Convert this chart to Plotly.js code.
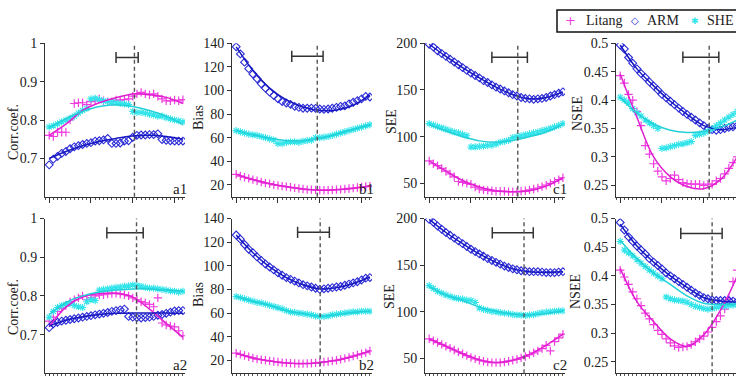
<!DOCTYPE html>
<html>
<head>
<meta charset="utf-8">
<script src="https://cdn.plot.ly/plotly-3.0.1.min.js"></script>
<style>
html,body{margin:0;padding:0;overflow:hidden;background:#fff;width:736px;height:376px;}
#wrap{width:736px;height:376px;overflow:hidden;position:relative;}
#chart{width:770px;height:376px;position:absolute;left:0;top:0;}
</style>
</head>
<body>
<div id="wrap"><div id="chart"></div></div>
<script>
// ---------- data ----------
const steps = [0,1,2,3,4,5,6,7,8,9,10,11,12,13,14,15,16,17,18,19,20,21,22,23,24,25,26,27,28,29,30,31,32];
const fitSteps = [0,4,8,12,16,20,24,28,32];
const seriesNames = ['Litang','ARM','SHE'];
const panelLabels = ['a1','b1','c1','d1','a2','b2','c2','d2'];
const yTitles = ['Corr.coef.','Bias','SEE','NSEE','Corr.coef.','Bias','SEE','NSEE'];
const tickA = [0.7,0.8,0.9,1];
const tickB = [20,40,60,80,100,120,140];
const tickC = [50,100,150,200];
const tickD = [0.25,0.3,0.35,0.4,0.45,0.5];

// a1
const a1_Litang = [0.76,0.757,0.768,0.768,0.768,0.80,0.843,0.845,0.845,0.84,0.848,0.85,0.855,0.85,0.848,0.848,0.852,0.852,0.853,0.855,0.862,0.868,0.872,0.868,0.866,0.868,0.862,0.855,0.85,0.85,0.852,0.85,0.853];
const a1_ARM = [0.683,0.698,0.705,0.713,0.718,0.725,0.730,0.733,0.736,0.739,0.741,0.745,0.746,0.748,0.752,0.739,0.739,0.740,0.745,0.746,0.755,0.760,0.761,0.761,0.762,0.762,0.764,0.749,0.747,0.746,0.745,0.745,0.745];
const a1_SHE = [0.782,0.785,0.79,0.795,0.80,0.805,0.81,0.818,0.825,0.83,0.855,0.857,0.853,0.85,0.848,0.847,0.845,0.843,0.842,0.84,0.822,0.82,0.82,0.818,0.815,0.813,0.81,0.81,0.806,0.803,0.80,0.798,0.795];
const a1_LitangFit = [0.76,0.789,0.825,0.845,0.858,0.868,0.866,0.859,0.843];
const a1_ARMFit = [0.70,0.718,0.733,0.744,0.752,0.758,0.76,0.757,0.75];
const a1_SHEFit = [0.78,0.803,0.822,0.835,0.84,0.835,0.825,0.81,0.788];
// b1
const b1_Litang = [29,27.5,26.5,25.5,24.5,23.5,22.5,21.5,21,20,19.5,19,18.5,18,17.5,17,16.5,16,16,15.8,15.5,15.5,15.6,15.8,16,16.2,16.5,17,17.3,17.8,18.2,18.6,19];
const b1_ARM = [137,131,124,118.5,114,110,105.7,102,98.6,95.7,93,90.6,89.4,88.3,86.6,85.7,85,85,85.1,84.9,84.3,84,84.3,85,85.7,86.6,87,88.6,90,91.4,92.9,95,94.5];
const b1_SHE = [66,65,64,63,62.5,62,61,60,59,58,55,55,56,56.5,56.5,56,57,57.5,58,60,60,60.5,61,62,63,64,65,66,67,68,69,70,71];
const b1_LitangFit = [29,24.5,21,18.5,16.5,15.5,15.8,17,19];
const b1_ARMFit = [137,117,102,92,86,83,83.5,87.5,96];
const b1_SHEFit = [66,62.5,59.5,57.5,57.5,59.5,63,67,71];
// c1
const c1_Litang = [74,71,69,66,63,60,57,52,51,50,49,46,44,43,42.5,42,41.5,41.5,41.5,41,41,41,41.5,42,43,44,45,46.5,48,50,52,54,56];
const c1_ARM = [199,196,192,189,186,183,180,177,174,171,168,165.5,163,160,158,155.5,153,151,149,147,145,143.5,142,141,140.5,140,140.5,141,142,143.5,145,146.5,148];
const c1_SHE = [114,112.5,111,109.5,108,106.5,105,104,102.5,101,89,89,89.5,90,90.5,91,92,94,95,96,99,100,101,102,103,104,105,106.5,107.5,109,110.5,112,114];
const c1_LitangFit = [74,63,53,46,42,41,42,47,56];
const c1_ARMFit = [199,186,174,163,153,145,140.5,142,148];
const c1_SHEFit = [113,106,100,95.5,94,96,100,105,113];
// d1
const d1_Litang = [0.443,0.43,0.41,0.40,0.38,0.355,0.32,0.305,0.288,0.275,0.265,0.258,0.262,0.268,0.26,0.255,0.253,0.252,0.252,0.252,0.25,0.252,0.252,0.258,0.262,0.27,0.28,0.29,0.30,0.315,0.33,0.345,0.36];
const d1_ARM = [0.497,0.49,0.475,0.465,0.455,0.447,0.44,0.432,0.425,0.418,0.41,0.404,0.398,0.392,0.386,0.38,0.375,0.37,0.365,0.36,0.355,0.35,0.348,0.347,0.348,0.35,0.352,0.353,0.355,0.356,0.357,0.358,0.36];
const d1_SHE = [0.405,0.40,0.395,0.385,0.378,0.372,0.365,0.36,0.355,0.35,0.315,0.316,0.318,0.32,0.322,0.323,0.325,0.327,0.338,0.34,0.342,0.345,0.35,0.355,0.36,0.365,0.37,0.375,0.38,0.385,0.39,0.395,0.40];
const d1_LitangFit = [0.446,0.37,0.30,0.265,0.248,0.244,0.26,0.30,0.36];
const d1_ARMFit = [0.497,0.455,0.425,0.398,0.375,0.355,0.348,0.352,0.36];
const d1_SHEFit = [0.405,0.377,0.358,0.347,0.343,0.345,0.352,0.365,0.385];
// a2
const a2_Litang = [0.735,0.745,0.76,0.768,0.775,0.785,0.79,0.795,0.80,0.79,0.795,0.80,0.802,0.803,0.805,0.806,0.807,0.805,0.803,0.80,0.795,0.79,0.785,0.782,0.778,0.772,0.795,0.73,0.725,0.722,0.72,0.71,0.697];
const a2_ARM = [0.718,0.728,0.732,0.735,0.737,0.739,0.741,0.743,0.745,0.747,0.749,0.751,0.753,0.755,0.757,0.76,0.762,0.764,0.766,0.747,0.745,0.744,0.743,0.744,0.745,0.747,0.75,0.752,0.755,0.758,0.761,0.762,0.762];
const a2_SHE = [0.745,0.76,0.77,0.775,0.778,0.78,0.775,0.772,0.77,0.785,0.79,0.788,0.815,0.817,0.818,0.82,0.822,0.823,0.825,0.826,0.828,0.827,0.825,0.822,0.82,0.82,0.818,0.817,0.815,0.813,0.812,0.81,0.812];
const a2_LitangFit = [0.72,0.771,0.797,0.806,0.807,0.797,0.766,0.729,0.693];
const a2_ARMFit = [0.722,0.737,0.746,0.752,0.755,0.756,0.756,0.756,0.755];
const a2_SHEFit = [0.752,0.783,0.80,0.81,0.815,0.818,0.818,0.815,0.812];
// b2
const b2_Litang = [26,25,24,23,22,21,20.5,20,19.5,19,18.5,18,17.8,17.5,17.3,17.2,17.2,17.3,17.5,17.8,18.2,18.6,19,19.5,20,20.8,21.6,22.5,23.5,24.5,25.5,26.5,28];
const b2_ARM = [126,122.5,118,114,111,107.5,104.5,101.5,99,96.5,94,92,90,88.5,87,85.5,84,83,82,81,80,80.5,81,81.5,82,82.5,83.5,84.5,85.5,86.5,88,89.5,90];
const b2_SHE = [74,73,72,71,70,69,68.5,67.5,66.5,65.5,64.5,63.5,62,61,60.5,60,59.5,59,58.5,57.5,57,57,57.5,58.5,59,59.5,60,60.5,61,61,61.5,61.5,61.5];
const b2_LitangFit = [26,22,19.5,17.8,17.2,18,20,23.5,28];
const b2_ARMFit = [126,111,99,90,84,80.5,81.5,85,90.5];
const b2_SHEFit = [74,70,66.5,62,59.5,57.5,58.5,60.5,61.5];
// c2
const c2_Litang = [71,69,67,65,63,61,59,57,55,53,51,49.5,48,47,46,45.5,45.5,45.5,46,47,48,49,50.5,52,54,56,58,60.5,64,58,68,72,76];
const c2_ARM = [199,196,192,188.5,185,182,179,176,173,170,167,164.5,162,159.5,157,155,153,151,149,147.5,146,145,144,143.5,143,143,143,142.5,142,142,142,142.5,143];
const c2_SHE = [128,125,122,120,118,116.5,115,114,113.5,112.5,112,110,104,102.5,101.5,100.5,100,99,98.5,98,97,96.5,96.5,96,96.5,97,98,99,99.5,100,100.5,101,101];
const c2_LitangFit = [71,63,55,48.5,45.5,48,54,64,76];
const c2_ARMFit = [199,185,173,162,153,146,143,142.3,143];
const c2_SHEFit = [127,118,112,105,100.5,97.5,96.5,98,101];
// d2
const d2_Litang = [0.41,0.398,0.385,0.372,0.36,0.348,0.335,0.325,0.315,0.305,0.298,0.29,0.283,0.278,0.275,0.276,0.277,0.28,0.285,0.29,0.295,0.302,0.31,0.32,0.33,0.342,0.36,0.39,0.41,0.43,0.45,0.47,0.49];
const d2_ARM = [0.493,0.48,0.468,0.46,0.452,0.445,0.438,0.43,0.424,0.418,0.412,0.405,0.40,0.395,0.39,0.385,0.38,0.375,0.37,0.366,0.362,0.36,0.358,0.357,0.357,0.357,0.357,0.356,0.355,0.354,0.352,0.35,0.35];
const d2_SHE = [0.46,0.445,0.44,0.435,0.428,0.422,0.416,0.41,0.405,0.40,0.395,0.363,0.36,0.358,0.357,0.356,0.354,0.35,0.347,0.345,0.343,0.342,0.343,0.345,0.346,0.347,0.348,0.349,0.35,0.35,0.35,0.35,0.35];
const d2_LitangFit = [0.413,0.355,0.32,0.29,0.277,0.297,0.34,0.40,0.48];
const d2_ARMFit = [0.49,0.452,0.424,0.40,0.38,0.362,0.356,0.354,0.35];
const d2_SHEFit = [0.462,0.43,0.405,0.385,0.365,0.352,0.35,0.35,0.35];

// optimal position (dashed line) and interval bar per panel
const dashX = [20.4,19.4,21.2,21.3,20.9,20.1,22.7,22.0];
const intervalLo = [16.0,13.3,15.0,15.0,13.8,14.7,15.1,14.5];
const intervalHi = [21.3,20.8,23.5,23.6,22.5,22.3,24.9,24.4];
const intervalY = [0.963,129,185,0.4755,0.963,128.3,184.6,0.474];

// ---------- layout helpers (pixel geometry) ----------
const W = 770, H = 376;
const colLeft = [45,232,425,616];
const panelW = 140;
const rowTop = [43.3,218.5];
const rowBottom = [196.7,373.3];
const yRanges = [[0.6,1.0],[10,140],[35.7,200],[0.23,0.5],[0.6,1.0],[9,140],[34,200],[0.23,0.5]];
const yTicks = [tickA,tickB,tickC,tickD,tickA,tickB,tickC,tickD];
const yTitlePos = [[13,132],[198,117],[392,121],[577,114],[13,307],[198,294],[389,297],[575,292]];
const showPanelLabel = [true,true,true,false,true,true,true,false];

const colors = {
  Litang:{pt:'#f03ce0', line:'#e020d0', symbol:'cross-thin-open', size:6, lw:1.2, glyph:'+', gsize:13},
  ARM:{pt:'#2a2ad6', line:'#1818c0', symbol:'diamond-open', size:6, lw:1.1, glyph:'\u25C7', gsize:10},
  SHE:{pt:'#30e4ea', line:'#22d0d8', symbol:'asterisk-open', size:6, lw:1.1, glyph:'\u2731', gsize:9}
};
const legendGlyphX = [570,635,695];
const legendTextX = [584,645,705];
const dataMap = {
  a1:[a1_Litang,a1_ARM,a1_SHE,a1_LitangFit,a1_ARMFit,a1_SHEFit],
  b1:[b1_Litang,b1_ARM,b1_SHE,b1_LitangFit,b1_ARMFit,b1_SHEFit],
  c1:[c1_Litang,c1_ARM,c1_SHE,c1_LitangFit,c1_ARMFit,c1_SHEFit],
  d1:[d1_Litang,d1_ARM,d1_SHE,d1_LitangFit,d1_ARMFit,d1_SHEFit],
  a2:[a2_Litang,a2_ARM,a2_SHE,a2_LitangFit,a2_ARMFit,a2_SHEFit],
  b2:[b2_Litang,b2_ARM,b2_SHE,b2_LitangFit,b2_ARMFit,b2_SHEFit],
  c2:[c2_Litang,c2_ARM,c2_SHE,c2_LitangFit,c2_ARMFit,c2_SHEFit],
  d2:[d2_Litang,d2_ARM,d2_SHE,d2_LitangFit,d2_ARMFit,d2_SHEFit]
};

const FONT = 'Liberation Serif, Times New Roman, serif';
const traces = [];
const layout = {
  width: W, height: H, autosize:false,
  margin:{l:0,r:0,t:0,b:0},
  paper_bgcolor:'#fff', plot_bgcolor:'#fff',
  font:{family:FONT, size:14, color:'#222'},
  showlegend:false,
  shapes:[], annotations:[]
};

// legend box (drawn by hand to match the original placement)
layout.shapes.push({type:'rect', xref:'paper', yref:'paper', x0:557/W, x1:790/W, y0:1-32/H, y1:1-10/H,
  line:{color:'#111', width:1.5}, fillcolor:'#fff', layer:'above'});
seriesNames.forEach((s, k) => {
  const c = colors[s];
  layout.annotations.push({xref:'paper', yref:'paper', x:legendGlyphX[k]/W, y:1-21/H, xanchor:'center', yanchor:'middle',
    text:c.glyph, showarrow:false, font:{family:'DejaVu Sans, sans-serif', size:c.gsize, color:c.pt}});
  layout.annotations.push({xref:'paper', yref:'paper', x:legendTextX[k]/W, y:1-21/H, xanchor:'left', yanchor:'middle',
    text:s, showarrow:false, font:{family:FONT, size:14, color:'#222'}});
});

panelLabels.forEach((lab, p) => {
  const row = p < 4 ? 0 : 1;
  const col = p % 4;
  const ax = p + 1;
  const xa = 'x' + (ax === 1 ? '' : ax);
  const ya = 'y' + (ax === 1 ? '' : ax);
  const xKey = 'xaxis' + (ax === 1 ? '' : ax);
  const yKey = 'yaxis' + (ax === 1 ? '' : ax);
  layout[xKey] = {
    domain:[colLeft[col]/W, (colLeft[col]+panelW)/W],
    anchor: ya, range:[-1,32.5],
    showline:true, linecolor:'#333', linewidth:1,
    ticks:'outside', tickvals:[0,10,20,30], ticklen:5, tickcolor:'#333',
    showticklabels:false, showgrid:false, zeroline:false,
    minor:{ticks:'outside', ticklen:2.5, dtick:1, tick0:0, tickcolor:'#555', showgrid:false}
  };
  layout[yKey] = {
    domain:[(H-rowBottom[row])/H, (H-rowTop[row])/H],
    anchor: xa, range: yRanges[p],
    showline:true, linecolor:'#333', linewidth:1,
    ticks:'outside', ticklen:4, tickcolor:'#333',
    tickvals: yTicks[p], showgrid:false, zeroline:false,
    tickfont:{family:FONT,size:14,color:'#222'}
  };
  // y-axis title
  layout.annotations.push({
    xref:'paper', yref:'paper', x:yTitlePos[p][0]/W, y:1-yTitlePos[p][1]/H,
    xanchor:'center', yanchor:'middle', textangle:-90, showarrow:false,
    text:yTitles[p], font:{family:FONT,size:14,color:'#222'}
  });
  const d = dataMap[lab];
  seriesNames.forEach((s, k) => {
    const c = colors[s];
    traces.push({
      type:'scatter', mode:'markers', x:steps, y:d[k], xaxis:xa, yaxis:ya,
      name:s, showlegend:false,
      marker:{symbol:c.symbol, size:c.size, color:c.pt, line:{color:c.pt, width:c.lw}}
    });
  });
  seriesNames.forEach((s, k) => {
    const c = colors[s];
    traces.push({
      type:'scatter', mode:'lines', x:fitSteps, y:d[3+k], xaxis:xa, yaxis:ya,
      name:s+' fit', showlegend:false,
      line:{color:c.line, width:1.5, shape:'spline', smoothing:1.0}
    });
  });
  traces.push({
    type:'scatter', mode:'lines+markers', x:[intervalLo[p], intervalHi[p]], y:[intervalY[p], intervalY[p]],
    xaxis:xa, yaxis:ya, showlegend:false,
    line:{color:'#333', width:1.5},
    marker:{symbol:'line-ns-open', size:8, color:'#333', line:{color:'#333', width:1.5}}
  });
  layout.shapes.push({
    type:'line', xref:xa, yref: ya + ' domain', x0:dashX[p], x1:dashX[p], y0:0, y1:1,
    line:{color:'#555', width:1.4, dash:'4px,3px'}, layer:'above'
  });
  if (showPanelLabel[p]) {
    layout.annotations.push({
      xref: xa + ' domain', yref: ya + ' domain', x:1.03, y:0, xanchor:'right', yanchor:'bottom',
      text: lab, showarrow:false, font:{family:FONT,size:15,color:'#222'}, yshift:-2
    });
  }
});

Plotly.newPlot('chart', traces, layout, {displayModeBar:false, staticPlot:true, responsive:false});
</script>
</body>
</html>
